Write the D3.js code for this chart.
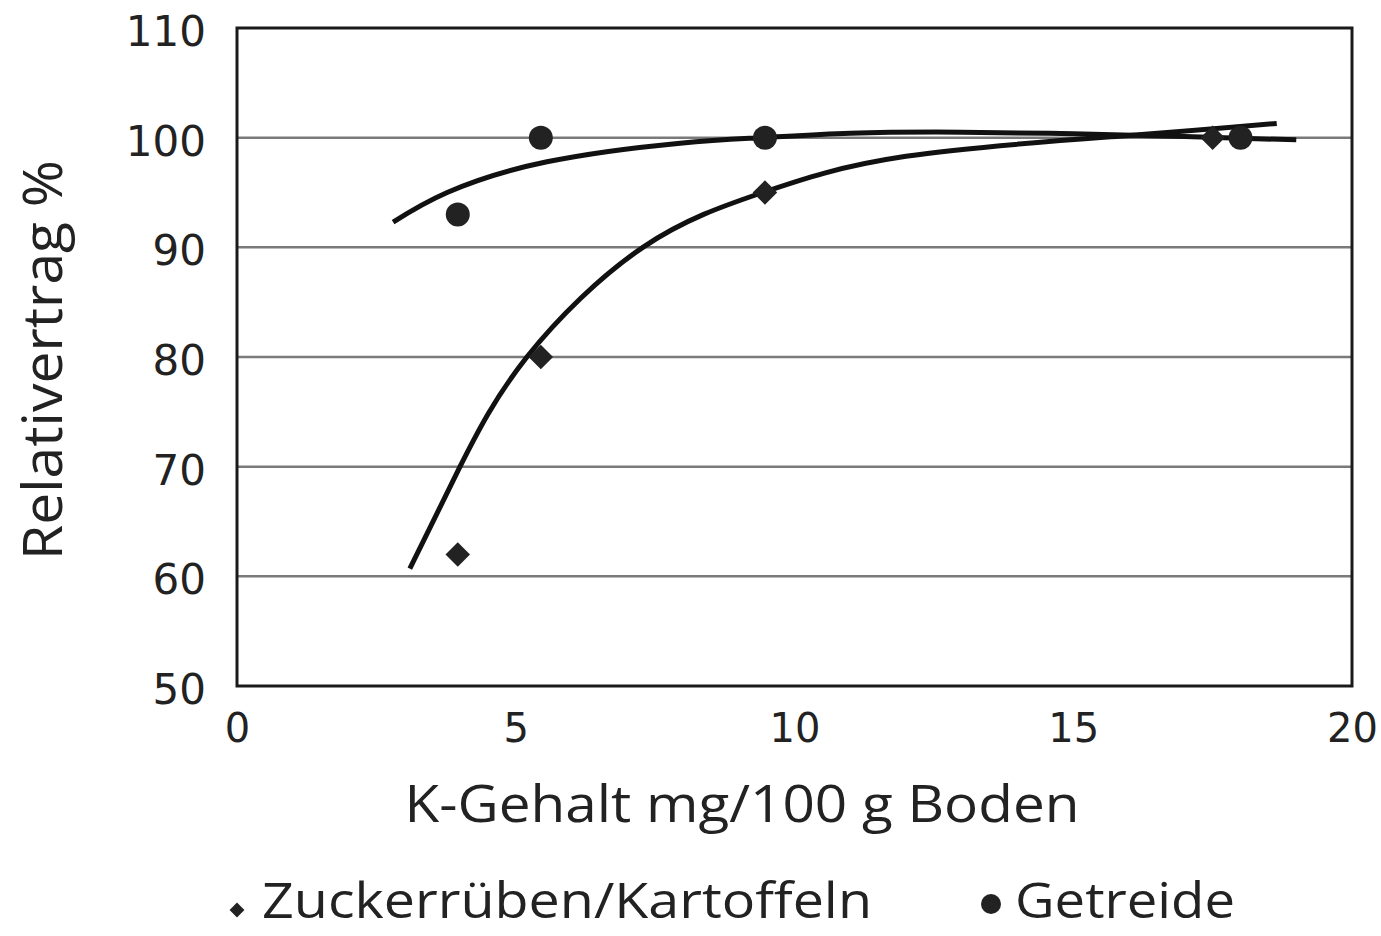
<!DOCTYPE html>
<html><head><meta charset="utf-8">
<script src="https://cdn.jsdelivr.net/npm/d3@7"></script>
<style>body{margin:0;background:#fff}svg{display:block}</style>
</head><body>
<script>
// Data
const zuckerX = [3.96, 5.45, 9.47, 17.5];
const zuckerY = [62, 80, 95, 100];
const getreideX = [3.96, 5.45, 9.47, 18.0];
const getreideY = [93, 100, 100, 100];
// fitted curves as drawn
const zuckerCurveX = [3.1, 4.0, 5.2, 7.28, 9.43, 12, 16, 18.65];
const zuckerCurveY = [60.7, 70, 80, 90, 95, 98.3, 100.2, 101.3];
const getreideCurveX = [2.8, 3.77, 5.56, 7.95, 9.43, 11, 13, 15, 17, 19.0];
const getreideCurveY = [92.3, 95.0, 97.8, 99.5, 100.0, 100.4, 100.5, 100.35, 100.1, 99.8];
const xTicks = [0, 5, 10, 15, 20];
const yTicks = [50, 60, 70, 80, 90, 100, 110];
const gridY = [60, 70, 80, 90, 100];
const legendLabels = ["Zuckerrüben/Kartoffeln", "Getreide"];

const W = 1381, H = 936;
const m = {l: 237, r: 1352, t: 28, b: 686};
const svg = d3.select("body").append("svg").attr("width", W).attr("height", H);
const x = d3.scaleLinear().domain([0, 20]).range([m.l, m.r]);
const y = d3.scaleLinear().domain([50, 110]).range([m.b, m.t]);
const tickFont = "'DejaVu Sans', sans-serif";
const textFont = "'Liberation Sans Narrow', 'Open Sans', sans-serif";

// gridlines
svg.append("g").selectAll("line").data(gridY).join("line")
  .attr("x1", m.l).attr("x2", m.r).attr("y1", d => y(d)).attr("y2", d => y(d))
  .attr("stroke", "#7a7a7a").attr("stroke-width", 2.5);

// frame
svg.append("rect").attr("x", m.l).attr("y", m.t).attr("width", m.r - m.l).attr("height", m.b - m.t)
  .attr("fill", "none").attr("stroke", "#1a1a1a").attr("stroke-width", 3);

// axes
const yAxis = svg.append("g").attr("transform", `translate(${m.l},0)`)
  .call(d3.axisLeft(y).tickValues(yTicks).tickSize(0).tickPadding(31));
yAxis.select(".domain").remove();
yAxis.selectAll("text").attr("font-family", tickFont).attr("font-size", 42).attr("fill", "#222").attr("dy", "0.42em");

const xAxis = svg.append("g").attr("transform", `translate(0,${m.b})`)
  .call(d3.axisBottom(x).tickValues(xTicks).tickSize(0).tickPadding(28));
xAxis.select(".domain").remove();
xAxis.selectAll("text").attr("font-family", tickFont).attr("font-size", 40).attr("fill", "#222");

// axis titles
svg.append("text").attr("x", 742).attr("y", 822).attr("text-anchor", "middle")
  .attr("font-family", textFont).attr("font-size", 52).attr("fill", "#222")
  .attr("textLength", 675).attr("lengthAdjust", "spacingAndGlyphs")
  .text("K-Gehalt mg/100 g Boden");
svg.append("text").attr("transform", "translate(62,360) rotate(-90)").attr("text-anchor", "middle")
  .attr("font-family", textFont).attr("font-size", 54).attr("fill", "#222")
  .attr("textLength", 400).attr("lengthAdjust", "spacingAndGlyphs")
  .text("Relativertrag %");

// curves
const line = d3.line().x(d => x(d[0])).y(d => y(d[1])).curve(d3.curveNatural);
svg.append("path").datum(d3.zip(getreideCurveX, getreideCurveY)).attr("d", line)
  .attr("fill", "none").attr("stroke", "#111").attr("stroke-width", 5);
svg.append("path").datum(d3.zip(zuckerCurveX, zuckerCurveY)).attr("d", line)
  .attr("fill", "none").attr("stroke", "#111").attr("stroke-width", 5);

// markers
svg.append("g").selectAll("path").data(d3.zip(zuckerX, zuckerY)).join("path")
  .attr("transform", d => `translate(${x(d[0])},${y(d[1])}) rotate(45)`)
  .attr("d", d3.symbol().type(d3.symbolSquare).size(300)).attr("fill", "#222");
svg.append("g").selectAll("circle").data(d3.zip(getreideX, getreideY)).join("circle")
  .attr("cx", d => x(d[0])).attr("cy", d => y(d[1])).attr("r", 12).attr("fill", "#222");

// legend
svg.append("path").attr("transform", "translate(237,910) rotate(45)")
  .attr("d", d3.symbol().type(d3.symbolSquare).size(110)).attr("fill", "#222");
svg.append("text").attr("x", 262).attr("y", 918).attr("font-family", textFont).attr("font-size", 50)
  .attr("fill", "#222").attr("textLength", 610).attr("lengthAdjust", "spacingAndGlyphs").text(legendLabels[0]);
svg.append("circle").attr("cx", 991).attr("cy", 904).attr("r", 10).attr("fill", "#222");
svg.append("text").attr("x", 1015).attr("y", 918).attr("font-family", textFont).attr("font-size", 50)
  .attr("fill", "#222").attr("textLength", 220).attr("lengthAdjust", "spacingAndGlyphs").text(legendLabels[1]);
</script>
</body></html>
